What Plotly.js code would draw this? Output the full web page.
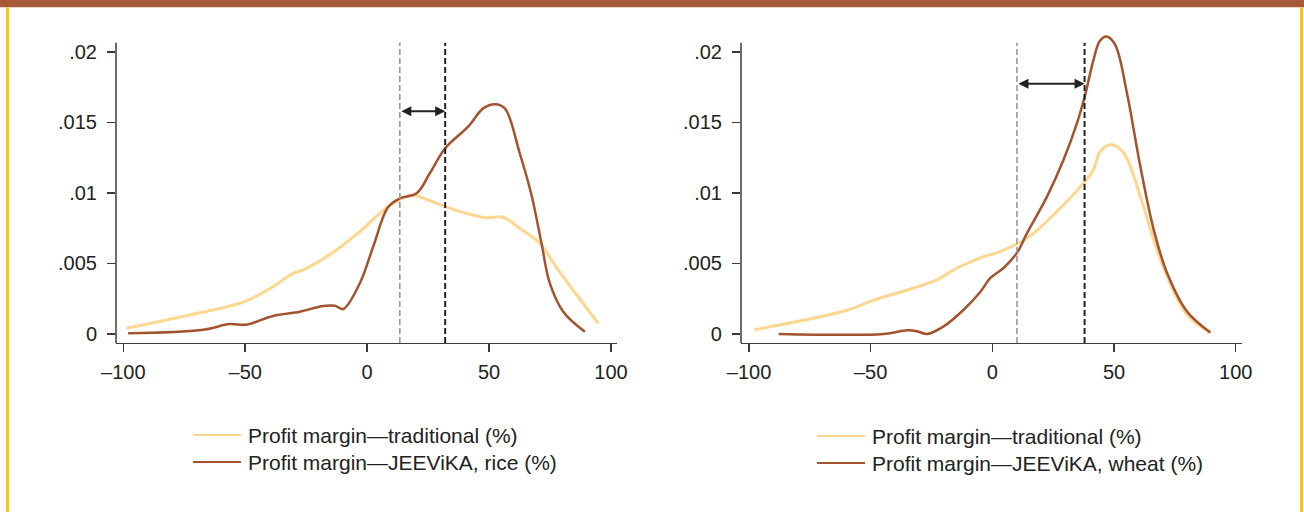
<!DOCTYPE html>
<html>
<head>
<meta charset="utf-8">
<script src="https://cdn.plot.ly/plotly-3.0.1.min.js"></script>
<style>html,body{margin:0;padding:0;background:#fff;}#chart{width:1304px;height:512px;}</style>
</head>
<body>
<div id="chart"></div>
<script>
// Left panel: rice
const riceTradX = [-98.7, -68.6, -50.2, -38.6, -30.3, -25.5, -13.9, -3, 8.6, 18.2, 25, 32, 42.1, 49, 55.8, 62.6, 70.8, 78.3, 84.5, 94.7];
const riceTradY = [0.0004, 0.0015, 0.0023, 0.00336, 0.0043, 0.0046, 0.0058, 0.00726, 0.00903, 0.00986, 0.0095, 0.00903, 0.00849, 0.00825, 0.00828, 0.0075, 0.00643, 0.00454, 0.0031, 0.00076];
const riceJeeX = [-98, -67.9, -56.3, -49.5, -38.6, -27.6, -18, -13.2, -9.8, -3, 2.5, 8.6, 13.4, 20.3, 25.7, 32, 41.4, 47.6, 52.4, 56.5, 62.6, 67.4, 71.5, 74.9, 80.4, 89.3];
const riceJeeY = [0.00005, 0.00028, 0.0007, 0.00066, 0.00128, 0.00158, 0.00199, 0.002, 0.00177, 0.0036, 0.0062, 0.009, 0.00962, 0.00998, 0.0114, 0.01317, 0.0147, 0.016, 0.0163, 0.016, 0.0128, 0.00986, 0.00643, 0.0036, 0.00158, 0.00016];
// Right panel: wheat
const wheatTradX = [-97.8, -59.7, -49.4, -32.3, -22.7, -14.5, -4.9, 3.3, 14.3, 26.6, 37.5, 41.6, 44.4, 49.2, 54, 60.8, 66.3, 71.8, 80, 89.6];
const wheatTradY = [0.0003, 0.00168, 0.00236, 0.00326, 0.00385, 0.00468, 0.0054, 0.00586, 0.0068, 0.0087, 0.0107, 0.01166, 0.01296, 0.01343, 0.01284, 0.00976, 0.00669, 0.00409, 0.00137, 0.00007];
const wheatJeeX = [-87.8, -44.7, -35, -31, -26.8, -20, -11.8, -4.9, -0.8, 4.6, 10.1, 14.3, 22.5, 29.3, 34.8, 38, 41.6, 44.2, 47, 50.5, 55.3, 60.8, 66.3, 71.8, 80, 89.6];
const wheatJeeY = [0, 0, 0.00026, 0.0002, 0, 0.00054, 0.00172, 0.003, 0.00397, 0.00468, 0.00575, 0.00717, 0.00976, 0.01237, 0.01497, 0.01686, 0.01946, 0.0208, 0.0211, 0.0205, 0.0171, 0.01189, 0.0074, 0.00433, 0.0016, 0.00011];

// Reference lines (means) and arrow heights
const riceMeans = [13.4, 32];
const riceArrowY = 0.0158;
const wheatMeans = [10.1, 37.9];
const wheatArrowY = 0.01775;

const xTickVals = [-100, -50, 0, 50, 100];
const xTickText = ['\u2013100', '\u201350', '0', '50', '100'];
const yTickVals = [0, 0.005, 0.01, 0.015, 0.02];
const yTickText = ['0', '.005', '.01', '.015', '.02'];

const legendTrad = 'Profit margin\u2014traditional (%)';
const legendRice = 'Profit margin\u2014JEEViKA, rice (%)';
const legendWheat = 'Profit margin\u2014JEEViKA, wheat (%)';

const LIGHT = '#FDD68F';
const BROWN = '#A3532E';
const FONT = 'Liberation Sans, Arial, Helvetica, sans-serif';
const TXT = '#222222';
const AX = '#3a3a3a';

const W = 1304, H = 512;
const px = v => v / W;
const py = v => 1 - v / H;

const SM = 1;
const traces = [
  {x: riceTradX, y: riceTradY, xaxis: 'x', yaxis: 'y', mode: 'lines', line: {color: LIGHT, width: 3, shape: 'spline', smoothing: SM}, name: legendTrad, showlegend: false},
  {x: riceJeeX, y: riceJeeY, xaxis: 'x', yaxis: 'y', mode: 'lines', line: {color: BROWN, width: 2.5, shape: 'spline', smoothing: SM}, name: legendRice, showlegend: false},
  {x: wheatTradX, y: wheatTradY, xaxis: 'x2', yaxis: 'y2', mode: 'lines', line: {color: LIGHT, width: 3, shape: 'spline', smoothing: SM}, name: legendTrad, showlegend: false},
  {x: wheatJeeX, y: wheatJeeY, xaxis: 'x2', yaxis: 'y2', mode: 'lines', line: {color: BROWN, width: 2.5, shape: 'spline', smoothing: SM}, name: legendWheat, showlegend: false}
];

function xAxis(domain, range, anchor) {
  return {
    domain: domain, range: range, anchor: anchor,
    tickmode: 'array', tickvals: xTickVals, ticktext: xTickText,
    ticks: 'outside', ticklen: 8, tickwidth: 1.5, tickcolor: AX,
    showline: true, linecolor: AX, linewidth: 1.5,
    showgrid: false, zeroline: false,
    tickfont: {family: FONT, size: 20, color: TXT},
    ticklabelstandoff: 3,
    fixedrange: true
  };
}
function yAxis(range, anchor) {
  return {
    domain: [0.33008, 0.93975], range: range, anchor: anchor,
    tickmode: 'array', tickvals: yTickVals, ticktext: yTickText,
    ticks: 'outside', ticklen: 8, tickwidth: 1.5, tickcolor: AX,
    showline: false, showgrid: false, zeroline: false,
    tickfont: {family: FONT, size: 20, color: TXT},
    ticklabelstandoff: 6,
    fixedrange: true
  };
}

const yBottom = -0.00064, yAxisTop = 0.02066;

const shapes = [
  {type: 'rect', xref: 'paper', yref: 'paper', x0: 0, x1: 1, y0: py(7.3), y1: 1, fillcolor: '#A65A38', line: {width: 0}, layer: 'below'},
  {type: 'rect', xref: 'paper', yref: 'paper', x0: px(6), x1: px(9), y0: 0, y1: py(7.3), fillcolor: '#FFC20E', line: {width: 0}, layer: 'below'},
  {type: 'rect', xref: 'paper', yref: 'paper', x0: px(1300), x1: px(1303), y0: 0, y1: py(7.3), fillcolor: '#FFC20E', line: {width: 0}, layer: 'below'},
  {type: 'line', xref: 'x domain', yref: 'y', x0: 0, x1: 0, y0: yBottom, y1: yAxisTop, line: {color: AX, width: 1.5}},
  {type: 'line', xref: 'x2 domain', yref: 'y2', x0: 0, x1: 0, y0: yBottom, y1: yAxisTop, line: {color: AX, width: 1.5}},
  {type: 'line', xref: 'x', yref: 'y', x0: riceMeans[0], x1: riceMeans[0], y0: yBottom, y1: yAxisTop, line: {color: '#9a9a9a', width: 1.6, dash: '6px,3px'}},
  {type: 'line', xref: 'x', yref: 'y', x0: riceMeans[1], x1: riceMeans[1], y0: yBottom, y1: yAxisTop, line: {color: '#222222', width: 2, dash: '6px,3px'}},
  {type: 'line', xref: 'x2', yref: 'y2', x0: wheatMeans[0], x1: wheatMeans[0], y0: yBottom, y1: yAxisTop, line: {color: '#9a9a9a', width: 1.6, dash: '6px,3px'}},
  {type: 'line', xref: 'x2', yref: 'y2', x0: wheatMeans[1], x1: wheatMeans[1], y0: yBottom, y1: yAxisTop, line: {color: '#222222', width: 2, dash: '6px,3px'}},
  {type: 'line', xref: 'paper', yref: 'paper', x0: px(193), x1: px(241), y0: py(435), y1: py(435), line: {color: LIGHT, width: 2}},
  {type: 'line', xref: 'paper', yref: 'paper', x0: px(193), x1: px(241), y0: py(462), y1: py(462), line: {color: BROWN, width: 2}},
  {type: 'line', xref: 'paper', yref: 'paper', x0: px(817), x1: px(865), y0: py(436), y1: py(436), line: {color: LIGHT, width: 2}},
  {type: 'line', xref: 'paper', yref: 'paper', x0: px(817), x1: px(865), y0: py(463), y1: py(463), line: {color: BROWN, width: 2}}
];

function legendText(text, xPix, yPix) {
  return {text: text, xref: 'paper', yref: 'paper', x: px(xPix), y: py(yPix), xanchor: 'left', yanchor: 'middle', showarrow: false, borderpad: 0, font: {family: FONT, size: 21, color: TXT}};
}
function dblArrow(xa, ya, x0, x1, y) {
  return {xref: xa, yref: ya, axref: xa, ayref: ya, x: x1, y: y, ax: x0, ay: y, text: '', showarrow: true,
    arrowhead: 2, startarrowhead: 2, arrowside: 'end+start', arrowsize: 1, startarrowsize: 1, arrowwidth: 2, arrowcolor: '#222222', standoff: 0, startstandoff: 0};
}

const annotations = [
  dblArrow('x', 'y', riceMeans[0], riceMeans[1], riceArrowY),
  dblArrow('x2', 'y2', wheatMeans[0], wheatMeans[1], wheatArrowY),
  legendText(legendTrad, 247, 435),
  legendText(legendRice, 247, 462),
  legendText(legendTrad, 871, 436),
  legendText(legendWheat, 871, 463)
];

const layout = {
  width: W, height: H,
  margin: {l: 0, r: 0, t: 0, b: 0},
  paper_bgcolor: '#ffffff', plot_bgcolor: 'rgba(0,0,0,0)',
  showlegend: false,
  xaxis: xAxis([0.08896, 0.47293], [-102.99, 102.34], 'y'),
  yaxis: yAxis([yBottom, 0.0215], 'x'),
  xaxis2: xAxis([0.56825, 0.95223], [-103.29, 102.47], 'y2'),
  yaxis2: yAxis([yBottom, 0.0215], 'x2'),
  shapes: shapes,
  annotations: annotations,
  font: {family: FONT, color: TXT}
};

Plotly.newPlot('chart', traces, layout, {displayModeBar: false, staticPlot: true});
</script>
</body>
</html>
